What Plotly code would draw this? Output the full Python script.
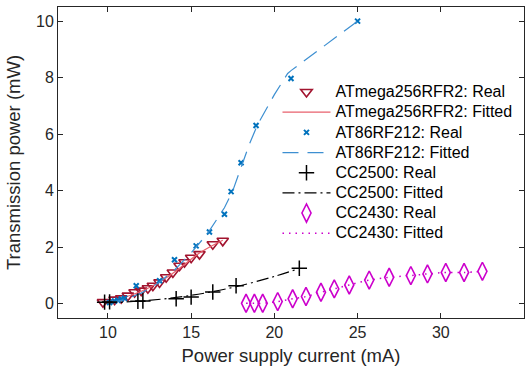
import plotly.graph_objects as go

# ATmega256RFR2
atm_x = [9.7, 10.4, 10.8, 11.2, 11.6, 12.0, 12.4, 12.7, 13.1, 13.5, 13.9, 14.3, 14.6, 15.0, 15.5, 16.3, 16.9]
atm_y = [0.06, 0.15, 0.20, 0.29, 0.41, 0.47, 0.55, 0.64, 0.76, 0.94, 1.11, 1.35, 1.47, 1.63, 1.76, 2.11, 2.23]
atm_fx = [9.7, 10.5, 11.5, 12.5, 13.5, 14.5, 15.5, 16.9]
atm_fy = [0.05, 0.15, 0.33, 0.58, 0.92, 1.35, 1.80, 2.25]

# AT86RF212
at86_x = [10.1, 10.4, 10.6, 10.8, 11.0, 11.7, 13.1, 14.0, 15.3, 16.1, 17.0, 17.4, 18.0, 18.9, 21.0, 25.0]
at86_y = [0.05, 0.10, 0.13, 0.17, 0.20, 0.64, 0.82, 1.56, 2.05, 2.54, 3.17, 3.97, 4.99, 6.31, 7.97, 10.0]
at86_fx = [10.0, 11.0, 12.0, 13.0, 14.0, 15.0, 16.0, 17.0, 17.5, 18.0, 18.5, 19.0, 20.0, 20.8, 21.0, 25.0]
at86_fy = [0.02, 0.15, 0.38, 0.72, 1.20, 1.80, 2.50, 3.40, 4.00, 4.85, 5.65, 6.35, 7.40, 8.15, 8.25, 10.0]

# CC2500
cc25_x = [9.8, 10.1, 11.8, 12.1, 14.1, 15.0, 16.3, 17.7, 21.5]
cc25_y = [0.06, 0.07, 0.09, 0.10, 0.18, 0.24, 0.42, 0.64, 1.26]
cc25_fx = [9.8, 12.0, 14.0, 16.0, 18.0, 20.0, 21.5]
cc25_fy = [0.03, 0.10, 0.22, 0.40, 0.65, 0.97, 1.25]

# CC2430
cc24_x = [18.3, 18.8, 19.3, 20.2, 21.1, 21.9, 22.8, 23.6, 24.5, 25.7, 26.9, 28.2, 29.2, 30.3, 31.4, 32.5]
cc24_y = [0.02, 0.02, 0.02, 0.08, 0.18, 0.26, 0.41, 0.53, 0.67, 0.84, 0.94, 1.00, 1.06, 1.11, 1.11, 1.15]

x_ticks = [10, 15, 20, 25, 30, 35]
y_ticks = [0, 2, 4, 6, 8, 10]

FONT = "Liberation Sans, Arial, sans-serif"


def lg(s):
    return '<span style="font-size:16px">' + s + '</span>'


fig = go.Figure()
fig.add_trace(go.Scatter(x=atm_x, y=atm_y, mode="markers", name=lg("ATmega256RFR2: Real"),
                         marker=dict(symbol="triangle-down-open", size=10, color="#A2142F", line=dict(width=1.6))))
fig.add_trace(go.Scatter(x=atm_fx, y=atm_fy, mode="lines", name=lg("ATmega256RFR2: Fitted"),
                         line=dict(color="#E8606C", width=1.2), line_shape="spline"))
fig.add_trace(go.Scatter(x=at86_x, y=at86_y, mode="markers", name=lg("AT86RF212: Real"),
                         marker=dict(symbol="x-thin-open", size=5, color="#0072BD", line=dict(width=2, color="#0072BD"))))
fig.add_trace(go.Scatter(x=at86_fx, y=at86_fy, mode="lines", name=lg("AT86RF212: Fitted"),
                         line=dict(color="#3D8FD1", width=1.2, dash="16px,9px")))
fig.add_trace(go.Scatter(x=cc25_x, y=cc25_y, mode="markers", name=lg("CC2500: Real"),
                         marker=dict(symbol="cross-thin-open", size=11, color="black", line=dict(width=1.5, color="black"))))
fig.add_trace(go.Scatter(x=cc25_fx, y=cc25_fy, mode="lines", name=lg("CC2500: Fitted"),
                         line=dict(color="black", width=1.2, dash="12px,4px,2px,4px"), line_shape="spline"))
fig.add_trace(go.Scatter(x=cc24_x, y=cc24_y, mode="markers", name=lg("CC2430: Real"),
                         marker=dict(symbol="diamond-tall-open", size=13, color="#CC00CC", line=dict(width=1.6, color="#CC00CC"))))
fig.add_trace(go.Scatter(x=cc24_x, y=cc24_y, mode="lines", name=lg("CC2430: Fitted"),
                         line=dict(color="#CC00CC", width=1.5, dash="1.5px,5px"), line_shape="spline"))

axis_common = dict(showgrid=False, zeroline=False, showline=True, linecolor="#262626", linewidth=1,
                   mirror="ticks", ticks="inside", ticklen=5, tickcolor="#262626",
                   tickfont=dict(family=FONT, size=16, color="#262626"))
fig.update_xaxes(range=[7, 35], tickvals=x_ticks, ticktext=[str(v) for v in x_ticks],
                 title=dict(text="Power supply current (mA)", font=dict(family=FONT, size=18.5, color="#262626"), standoff=8),
                 **axis_common)
fig.update_yaxes(range=[-0.5, 10.5], tickvals=y_ticks, ticktext=[str(v) for v in y_ticks],
                 title=dict(text="Transmission power (mW)", font=dict(family=FONT, size=18.5, color="#262626"), standoff=10),
                 **axis_common)

fig.update_layout(
    width=531, height=368,
    margin=dict(l=58, r=6, t=6, b=49),
    paper_bgcolor="white", plot_bgcolor="white",
    font=dict(family=FONT, size=16, color="#262626"),
    legend=dict(x=0.471, y=0.775, xanchor="left", yanchor="top", bgcolor="rgba(0,0,0,0)",
                font=dict(family=FONT, size=13.2, color="black"), itemwidth=48, tracegroupgap=0),
    showlegend=True,
)

fig.write_html("out.html")
